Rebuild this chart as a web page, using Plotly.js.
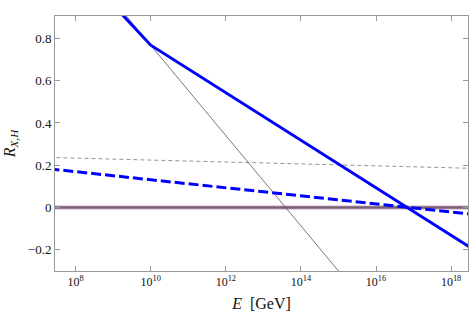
<!DOCTYPE html>
<html>
<head>
<meta charset="utf-8">
<script src="https://cdn.plot.ly/plotly-3.0.1.min.js"></script>
<style>html,body{margin:0;padding:0;background:#fff;}#chart{width:472px;height:316px;}</style>
</head>
<body>
<div id="chart"></div>
<script>
// Data
const blueSolidE = [1e9, 1e10, 3e18];
const blueSolidR = [0.958, 0.768, -0.185];
const thinSolidE = [1e9, 1e15];
const thinSolidR = [0.981, -0.30];
const blueDashE = [2e7, 3e18];
const blueDashR = [0.183, -0.030];
const grayDashE = [2e7, 1e14, 3e18];
const grayDashR = [0.237, 0.205, 0.186];
const zeroE = [2e7, 3e18];
const zeroR = [0, 0];
const xTickVals = [1e8, 1e10, 1e12, 1e14, 1e16, 1e18];
const xTickText = ['10<sup>8</sup>', '10<sup>10</sup>', '10<sup>12</sup>', '10<sup>14</sup>', '10<sup>16</sup>', '10<sup>18</sup>'];
const yTickVals = [-0.2, 0, 0.2, 0.4, 0.6, 0.8];
const yTickText = ['\u22120.2', '0', '0.2', '0.4', '0.6', '0.8'];

const traces = [
  {x: zeroE, y: zeroR, mode: 'lines', line: {color: '#ead0e4', width: 5}, hoverinfo: 'skip'},
  {x: zeroE, y: zeroR, mode: 'lines', line: {color: '#75606f', width: 2.5}, hoverinfo: 'skip'},
  {x: grayDashE, y: grayDashR, mode: 'lines', line: {color: '#777', width: 0.8, dash: '4px,3px'}},
  {x: thinSolidE, y: thinSolidR, mode: 'lines', line: {color: '#555', width: 0.8}},
  {x: blueDashE, y: blueDashR, mode: 'lines', line: {color: '#0000ff', width: 3, dash: '10px,4px'}},
  {x: blueSolidE, y: blueSolidR, mode: 'lines', line: {color: '#0000ff', width: 3}}
];

const fam = 'Liberation Serif';

const layout = {
  width: 472, height: 316,
  margin: {l: 55, r: 4, t: 16, b: 45},
  paper_bgcolor: '#fff', plot_bgcolor: '#fff',
  showlegend: false,
  font: {family: fam, size: 13, color: '#111'},
  xaxis: {
    type: 'log', range: [7.45, 18.45],
    tickmode: 'array', tickvals: xTickVals, ticktext: xTickText,
    ticks: 'inside', ticklen: 5, tickcolor: '#999', tickwidth: 1,
    showline: true, linecolor: '#999', linewidth: 1, mirror: 'ticks',
    showgrid: false, zeroline: false,
    tickfont: {family: fam, size: 12, color: '#111'},
    title: {text: '<i>E</i>  [GeV]', font: {family: fam, size: 16, color: '#111'}, standoff: 9}
  },
  yaxis: {
    range: [-0.3, 0.906],
    tickmode: 'array', tickvals: yTickVals, ticktext: yTickText,
    ticks: 'inside', ticklen: 5, tickcolor: '#999', tickwidth: 1,
    showline: true, linecolor: '#999', linewidth: 1, mirror: 'ticks',
    showgrid: false, zeroline: false,
    tickfont: {family: fam, size: 13, color: '#111'},
    title: {text: '<i>R</i><sub><i>X,H</i></sub>', font: {family: fam, size: 16, color: '#111'}, standoff: 8}
  }
};

Plotly.newPlot('chart', traces, layout, {staticPlot: true, displayModeBar: false});
</script>
</body>
</html>
